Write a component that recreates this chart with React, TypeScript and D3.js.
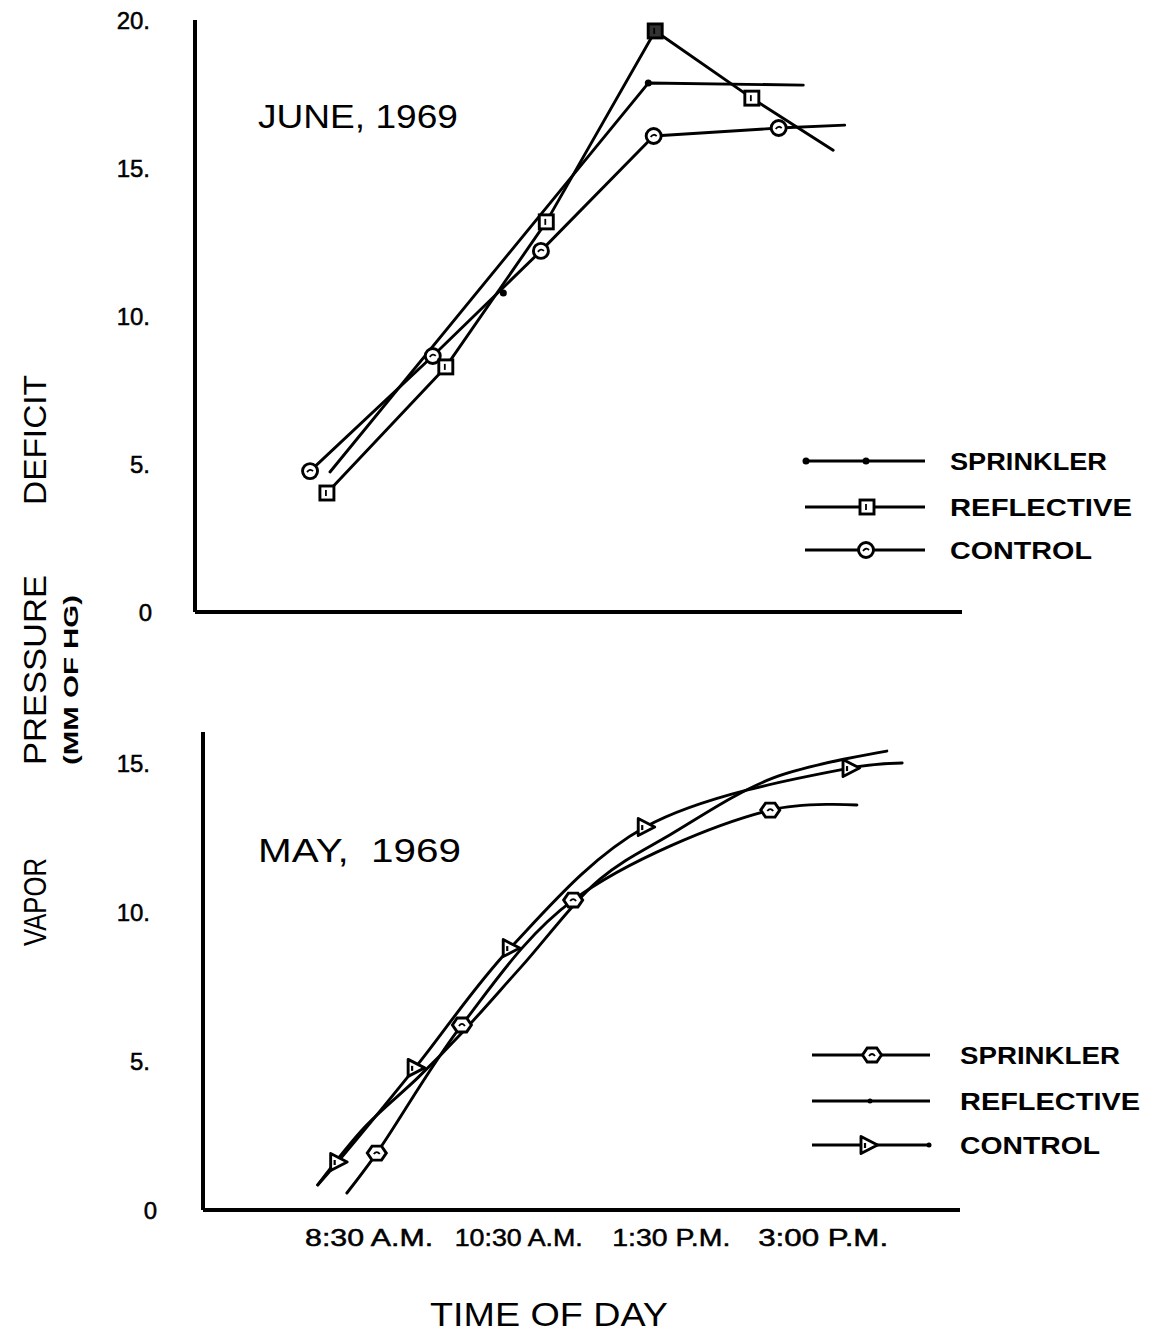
import React from "react";
import * as d3 from "d3";

// ---------- DATA ----------
// x values are positions on a shared "time of day" axis (0–100 units)
const xTickValues = [22.7, 42.2, 62.1, 81.9];
const xTickLabels = ["8:30 A.M.", "10:30 A.M.", "1:30 P.M.", "3:00 P.M."];

const topTickValues = [0, 5, 10, 15, 20];
const topTickLabels = ["0", "5.", "10.", "15.", "20."];
const bottomTickValues = [0, 5, 10, 15];
const bottomTickLabels = ["0", "5.", "10.", "15."];

// JUNE, 1969
const juneControlX = [15.0, 31.0, 45.1, 59.8, 76.1, 84.7];
const juneControlY = [4.76, 8.65, 12.2, 16.08, 16.35, 16.45];
const juneControlMarked = [true, true, true, true, true, false];

const juneReflectiveX = [17.2, 32.7, 45.8, 60.0, 72.6, 83.2];
const juneReflectiveY = [4.02, 8.28, 13.18, 19.63, 17.36, 15.6];
const juneReflectiveMarked = [true, true, true, true, true, false];

const juneSprinklerX = [17.6, 59.1, 79.3];
const juneSprinklerY = [4.73, 17.87, 17.8];
const juneSprinklerMarked = [false, true, false];
const juneSprinklerDotX = [40.2];
const juneSprinklerDotY = [10.78];

// MAY, 1969
const mayControlX = [16.0, 18.6, 28.7, 41.1, 58.7, 85.4, 92.2];
const mayControlY = [0.84, 1.61, 4.77, 8.79, 12.85, 14.83, 15.0];
const mayControlMarked = [false, true, true, true, true, true, false];

const maySprinklerX = [19.8, 23.7, 34.8, 49.3, 75.0, 86.3];
const maySprinklerY = [0.57, 1.91, 6.21, 10.4, 13.42, 13.59];
const maySprinklerMarked = [false, true, true, true, true, false];

const mayReflectiveX = [16.0, 22.2, 29.1, 35.0, 42.5, 52.8, 62.0, 75.4, 90.2];
const mayReflectiveY = [0.84, 2.8, 4.45, 6.0, 8.15, 11.1, 12.6, 14.5, 15.4];

const juneLegend = ["SPRINKLER", "REFLECTIVE", "CONTROL"];
const mayLegend = ["SPRINKLER", "REFLECTIVE", "CONTROL"];

// ---------- LAYOUT ----------
const W = 1151;
const H = 1333;
const FONT = "'Liberation Sans', Arial, sans-serif";
const SW = 2.9;

const xScale = d3.scaleLinear().domain([0, 100]).range([195, 962]);
const yTop = d3.scaleLinear().domain([0, 20]).range([612, 20]);
const yBot = d3.scaleLinear().domain([0, 15]).range([1210, 763]);

type Pt = { x: number; y: number; m: boolean };
const zip = (xs: number[], ys: number[], ms?: boolean[]): Pt[] =>
  xs.map((x, i) => ({ x, y: ys[i], m: ms ? ms[i] : true }));

function CircleMark({ cx, cy }: { cx: number; cy: number }) {
  return (
    <g transform={`translate(${cx},${cy})`}>
      <circle r={7.5} fill="#fff" stroke="#000" strokeWidth={SW} />
      <path d="M-3,1 Q0,-3 3,0" fill="none" stroke="#000" strokeWidth={1.8} />
    </g>
  );
}
function SquareMark({ cx, cy, dark }: { cx: number; cy: number; dark?: boolean }) {
  return (
    <g transform={`translate(${cx},${cy})`}>
      <rect x={-7} y={-7} width={14} height={14} fill={dark ? "#333" : "#fff"} stroke="#000" strokeWidth={SW} />
      <path d="M-1,-3 L-1,3" stroke="#000" strokeWidth={1.8} />
    </g>
  );
}
function DotMark({ cx, cy }: { cx: number; cy: number }) {
  return <circle cx={cx} cy={cy} r={3.5} fill="#000" />;
}
function HexMark({ cx, cy }: { cx: number; cy: number }) {
  const r = 9.5;
  const pts = d3.range(6).map((i) => {
    const a = (Math.PI / 3) * i;
    return [r * Math.cos(a), r * 0.85 * Math.sin(a)];
  });
  return (
    <g transform={`translate(${cx},${cy})`}>
      <polygon points={pts.map((p) => p.join(",")).join(" ")} fill="#fff" stroke="#000" strokeWidth={SW} />
      <path d="M-3,1 Q0,-3 3,1" fill="none" stroke="#000" strokeWidth={1.8} />
    </g>
  );
}
function TriMark({ cx, cy }: { cx: number; cy: number }) {
  return (
    <g transform={`translate(${cx},${cy})`}>
      <polygon points="-7,-8.5 9.5,0 -7,8.5" fill="#fff" stroke="#000" strokeWidth={SW} strokeLinejoin="round" />
      <path d="M-3,-2 L-3,3" stroke="#000" strokeWidth={2.2} />
    </g>
  );
}

export default function App() {
  const lineTop = d3
    .line<Pt>()
    .x((d) => xScale(d.x))
    .y((d) => yTop(d.y))
    .curve(d3.curveLinear);
  const lineBot = d3
    .line<Pt>()
    .x((d) => xScale(d.x))
    .y((d) => yBot(d.y))
    .curve(d3.curveCatmullRom.alpha(0.5));

  const jC = zip(juneControlX, juneControlY, juneControlMarked);
  const jR = zip(juneReflectiveX, juneReflectiveY, juneReflectiveMarked);
  const jS = zip(juneSprinklerX, juneSprinklerY, juneSprinklerMarked);
  const jSD = zip(juneSprinklerDotX, juneSprinklerDotY);

  const mC = zip(mayControlX, mayControlY, mayControlMarked);
  const mS = zip(maySprinklerX, maySprinklerY, maySprinklerMarked);
  const mR = zip(mayReflectiveX, mayReflectiveY);

  const jRmax = d3.max(juneReflectiveY) as number;

  const botAxisLeft = 203;
  const botAxisRight = 960;

  const lineStyle = { fill: "none", stroke: "#000", strokeWidth: SW, strokeLinejoin: "round" as const, strokeLinecap: "round" as const };
  const tickTextStyle = { stroke: "#000", strokeWidth: 0.5 };

  const juneLegendRows = [461, 507, 550];
  const juneLegendLen = [157, 182, 142];
  const mayLegendRows = [1055, 1101, 1145];
  const mayLegendLen = [160, 180, 140];
  const xLabelLen = [128, 128, 118, 130];

  return (
    <svg
      width={W}
      height={H}
      style={{ position: "absolute", left: 0, top: 0, background: "#fff" }}
      fontFamily={FONT}
    >
      <rect x={0} y={0} width={W} height={H} fill="#fff" />

      {/* ----- Top panel axes ----- */}
      <line x1={xScale(0)} y1={yTop(20)} x2={xScale(0)} y2={yTop(0)} stroke="#000" strokeWidth={4} />
      <line x1={xScale(0)} y1={yTop(0)} x2={xScale(100)} y2={yTop(0)} stroke="#000" strokeWidth={4} />
      {topTickValues.map((v, i) => (
        <text
          key={"tt" + i}
          x={i === 0 ? 152 : 150}
          y={yTop(v)}
          dy="0.36em"
          textAnchor="end"
          fontSize={24}
          fill="#000"
          {...tickTextStyle}
        >
          {topTickLabels[i]}
        </text>
      ))}

      {/* ----- Bottom panel axes ----- */}
      <line x1={botAxisLeft} y1={732} x2={botAxisLeft} y2={yBot(0)} stroke="#000" strokeWidth={4} />
      <line x1={botAxisLeft} y1={yBot(0)} x2={botAxisRight} y2={yBot(0)} stroke="#000" strokeWidth={4} />
      {bottomTickValues.map((v, i) => (
        <text
          key={"bt" + i}
          x={i === 0 ? 157 : 150}
          y={yBot(v)}
          dy="0.36em"
          textAnchor="end"
          fontSize={24}
          fill="#000"
          {...tickTextStyle}
        >
          {bottomTickLabels[i]}
        </text>
      ))}
      {xTickValues.map((v, i) => (
        <text
          key={"xt" + i}
          x={xScale(v)}
          y={1238}
          dy="0.36em"
          textAnchor="middle"
          fontSize={23}
          textLength={xLabelLen[i]}
          lengthAdjust="spacingAndGlyphs"
          fill="#000"
          {...tickTextStyle}
        >
          {xTickLabels[i]}
        </text>
      ))}

      {/* ----- Axis titles ----- */}
      <text x={549} y={1326} textAnchor="middle" fontSize={34} textLength={238} lengthAdjust="spacingAndGlyphs" fill="#000">
        TIME OF DAY
      </text>
      <text transform="translate(46,902) rotate(-90)" textAnchor="middle" fontSize={31} textLength={88} lengthAdjust="spacingAndGlyphs" fill="#000">
        VAPOR
      </text>
      <text transform="translate(46,670) rotate(-90)" textAnchor="middle" fontSize={31} textLength={190} lengthAdjust="spacingAndGlyphs" fill="#000">
        PRESSURE
      </text>
      <text transform="translate(46,440) rotate(-90)" textAnchor="middle" fontSize={31} textLength={130} lengthAdjust="spacingAndGlyphs" fill="#000">
        DEFICIT
      </text>
      <text transform="translate(78,680) rotate(-90)" textAnchor="middle" fontSize={21} fontWeight="bold" textLength={170} lengthAdjust="spacingAndGlyphs" fill="#000">
        (MM OF HG)
      </text>

      {/* ----- Panel titles ----- */}
      <text x={258} y={128} fontSize={34} textLength={200} lengthAdjust="spacingAndGlyphs" fill="#000">
        JUNE, 1969
      </text>
      <text x={258} y={862} fontSize={34} textLength={203} lengthAdjust="spacingAndGlyphs" fill="#000" style={{ whiteSpace: "pre" }}>
        {"MAY,  1969"}
      </text>

      {/* ----- June lines ----- */}
      <path d={lineTop(jS) || ""} {...lineStyle} />
      <path d={lineTop(jC) || ""} {...lineStyle} />
      <path d={lineTop(jR) || ""} {...lineStyle} />
      {jS.filter((d) => d.m).map((d, i) => (
        <DotMark key={"js" + i} cx={xScale(d.x)} cy={yTop(d.y)} />
      ))}
      {jSD.map((d, i) => (
        <DotMark key={"jsd" + i} cx={xScale(d.x)} cy={yTop(d.y)} />
      ))}
      {jC.filter((d) => d.m).map((d, i) => (
        <CircleMark key={"jc" + i} cx={xScale(d.x)} cy={yTop(d.y)} />
      ))}
      {jR.filter((d) => d.m).map((d, i) => (
        <SquareMark key={"jr" + i} cx={xScale(d.x)} cy={yTop(d.y)} dark={d.y === jRmax} />
      ))}

      {/* ----- June legend ----- */}
      {juneLegend.map((name, i) => (
        <g key={"jl" + i}>
          <line x1={805} y1={juneLegendRows[i]} x2={925} y2={juneLegendRows[i]} stroke="#000" strokeWidth={SW} />
          {i === 0 && (
            <>
              <DotMark cx={806} cy={juneLegendRows[i]} />
              <DotMark cx={866} cy={juneLegendRows[i]} />
            </>
          )}
          {i === 1 && <SquareMark cx={867} cy={juneLegendRows[i]} />}
          {i === 2 && <CircleMark cx={866} cy={juneLegendRows[i]} />}
          <text
            x={950}
            y={juneLegendRows[i]}
            dy="0.36em"
            fontSize={24}
            fontWeight="bold"
            textLength={juneLegendLen[i]}
            lengthAdjust="spacingAndGlyphs"
            fill="#000"
          >
            {name}
          </text>
        </g>
      ))}

      {/* ----- May lines ----- */}
      <path d={lineBot(mR) || ""} {...lineStyle} />
      <path d={lineBot(mS) || ""} {...lineStyle} />
      <path d={lineBot(mC) || ""} {...lineStyle} />
      {mS.filter((d) => d.m).map((d, i) => (
        <HexMark key={"ms" + i} cx={xScale(d.x)} cy={yBot(d.y)} />
      ))}
      {mC.filter((d) => d.m).map((d, i) => (
        <TriMark key={"mc" + i} cx={xScale(d.x)} cy={yBot(d.y)} />
      ))}

      {/* ----- May legend ----- */}
      {mayLegend.map((name, i) => (
        <g key={"ml" + i}>
          <line x1={812} y1={mayLegendRows[i]} x2={930} y2={mayLegendRows[i]} stroke="#000" strokeWidth={SW} />
          {i === 0 && <HexMark cx={872} cy={mayLegendRows[i]} />}
          {i === 1 && <circle cx={870} cy={mayLegendRows[i]} r={2.5} fill="#000" />}
          {i === 2 && (
            <>
              <TriMark cx={868} cy={mayLegendRows[i]} />
              <circle cx={929} cy={mayLegendRows[i]} r={2.5} fill="#000" />
            </>
          )}
          <text
            x={960}
            y={mayLegendRows[i]}
            dy="0.36em"
            fontSize={24}
            fontWeight="bold"
            textLength={mayLegendLen[i]}
            lengthAdjust="spacingAndGlyphs"
            fill="#000"
          >
            {name}
          </text>
        </g>
      ))}
    </svg>
  );
}
